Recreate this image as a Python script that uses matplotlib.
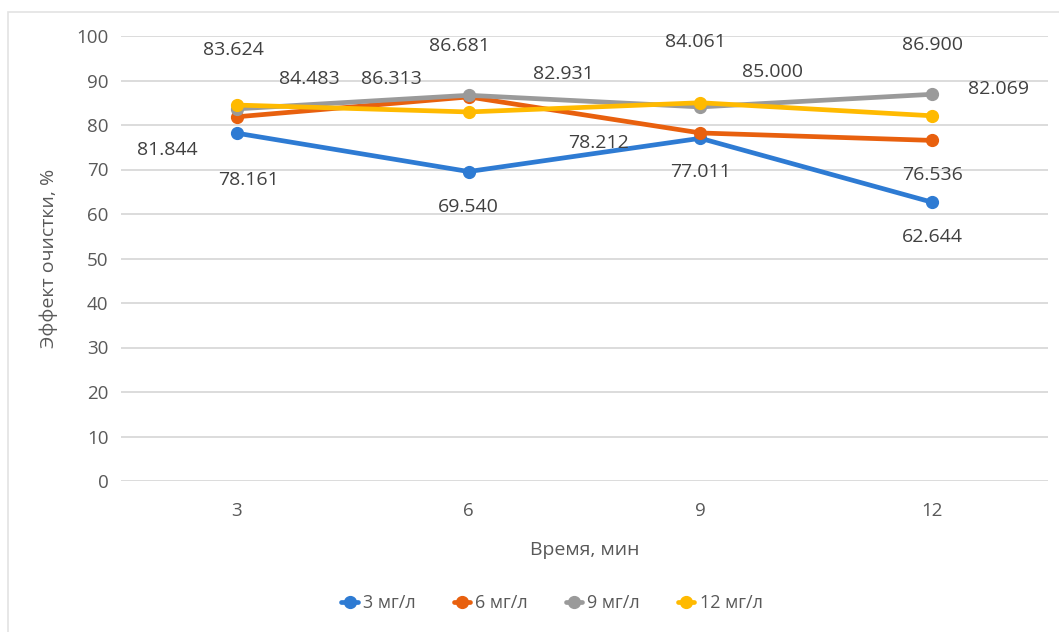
import matplotlib
matplotlib.use("Agg")
import matplotlib.pyplot as plt
from matplotlib.patches import Rectangle

plt.rcParams['font.family'] = ['Open Sans', 'DejaVu Sans']

# время обработки, мин
times = [3, 6, 9, 12]
# эффект очистки, % для каждой дозы
eff_3 = [78.161, 69.540, 77.011, 62.644]
eff_6 = [81.844, 86.313, 78.212, 76.536]
eff_9 = [83.624, 86.681, 84.061, 86.900]
eff_12 = [84.483, 82.931, 85.000, 82.069]
series_names = ['3 мг/л', '6 мг/л', '9 мг/л', '12 мг/л']

colors = ['#2E7BD3', '#E8600E', '#9A9A9A', '#FFBA00']
# сдвиги подписей значений (пиксели)
label_offsets = [
    [(12, -47), (0, -35), (0, -34), (0, -35)],
    [(-70, -33), (-77, 18), (-102, -10), (0, -35)],
    [(-3, 59), (-9, 49), (-5, 65), (0, 49)],
    [(72, 26), (95, 38), (72, 31), (66, 27)],
]

fig = plt.figure(figsize=(10.59, 6.32), dpi=100)
fig.patches.append(Rectangle((8 / 1059, -0.1), 1.2, 1 - 12 / 632 + 0.1,
                             transform=fig.transFigure, fill=False,
                             edgecolor='#E3E3E3', linewidth=1.2))
ax = fig.add_axes([121 / 1059, 1 - 481 / 632, 927 / 1059, 445 / 632])

xpos = list(range(len(times)))
all_series = [eff_3, eff_6, eff_9, eff_12]
for vals, name, col, offs in zip(all_series, series_names, colors, label_offsets):
    ax.plot(xpos, vals, color=col, linewidth=3.4, marker='o', markersize=8.5,
            label=name, solid_capstyle='round', zorder=3)
    for x, v, (dx, dy) in zip(xpos, vals, offs):
        ax.annotate(f'{v:.3f}', xy=(x, v), xytext=(dx, dy), textcoords='offset pixels',
                    ha='center', va='center', fontsize=14, color='#404040', zorder=4)

ax.set_xlim(-0.5, len(times) - 0.5)
ax.set_ylim(0, 100)
ax.set_yticks(range(0, 101, 10))
ax.set_xticks(xpos)
ax.set_xticklabels([str(t) for t in times])
ax.grid(axis='y', color='#D9D9D9', linewidth=1.3)
ax.set_axisbelow(True)
for s in ax.spines.values():
    s.set_visible(False)
ax.tick_params(length=0, labelsize=13.5, labelcolor='#595959')
ax.tick_params(axis='y', pad=9)
ax.tick_params(axis='x', pad=15)

ax.set_xlabel('Время, мин', fontsize=14, color='#595959')
ax.xaxis.set_label_coords(0.5, -69 / 445)
ax.xaxis.label.set_va('center')
ax.set_ylabel('Эффект очистки, %', fontsize=14, color='#595959')
ax.yaxis.set_label_coords(-72 / 927, 0.5)
ax.yaxis.label.set_va('center')

fig.legend(loc='center', bbox_to_anchor=(552 / 1059, 1 - 603 / 632), ncol=4,
           frameon=False, fontsize=13, labelcolor='#595959', handlelength=0.9,
           handletextpad=0.3, columnspacing=2.1, markerscale=1.0)

fig.savefig('out.png', dpi=100, facecolor='white')
